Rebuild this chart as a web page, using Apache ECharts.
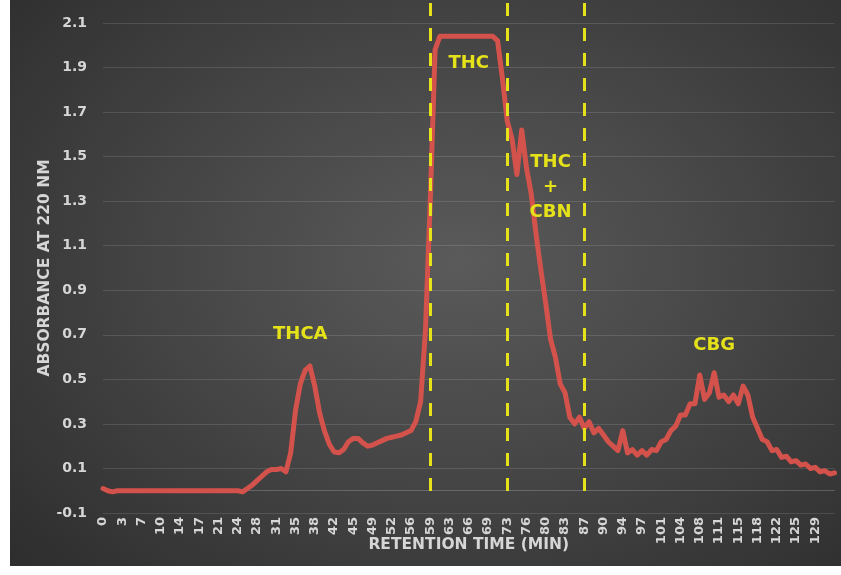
<!DOCTYPE html>
<html>
<head>
<meta charset="utf-8">
<script src="https://cdn.jsdelivr.net/npm/echarts@6/dist/echarts.min.js"></script>
<style>
  html, body { margin: 0; padding: 0; background: #ffffff; width: 841px; height: 575px; overflow: hidden; }
  #chart {
    position: absolute; left: 10px; top: 0; width: 831px; height: 566px;
    background: radial-gradient(ellipse 72% 78% at 54% 46%, #5a5a5a 0%, #474747 45%, #2e2e2e 100%);
  }
</style>
</head>
<body>
<div id="chart"></div>
<script>
// Retention-time tick labels (minutes), one every 4 samples
const tickLabels = [0, 3, 7, 10, 14, 17, 21, 24, 28, 31, 35, 38, 42, 45, 49, 52, 56, 59, 63,
  66, 69, 73, 76, 80, 83, 87, 90, 94, 97, 101, 104, 108, 111, 115, 118, 122, 125, 129];
const samplesPerTick = 4;

// Absorbance at 220 nm, one value per sample
const absorbance = [
  0.01, 0.0, -0.005, 0.0,      // 0
  0, 0, 0, 0,                  // 3
  0, 0, 0, 0,                  // 7
  0, 0, 0, 0,                  // 10
  0, 0, 0, 0,                  // 14
  0, 0, 0, 0,                  // 17
  0, 0, 0, 0,                  // 21
  0, -0.005, 0.01, 0.025,      // 24
  0.045, 0.065, 0.085, 0.095,  // 28
  0.095, 0.1, 0.085, 0.17,     // 31
  0.36, 0.48, 0.54, 0.56,      // 35
  0.47, 0.35, 0.27, 0.21,      // 38
  0.175, 0.17, 0.185, 0.22,    // 42
  0.235, 0.235, 0.215, 0.2,    // 45
  0.205, 0.215, 0.225, 0.235,  // 49
  0.24, 0.245, 0.25, 0.26,     // 52
  0.27, 0.31, 0.40, 0.72,      // 56
  1.3, 1.98, 2.04, 2.04,       // 59
  2.04, 2.04, 2.04, 2.04,      // 63
  2.04, 2.04, 2.04, 2.04,      // 66
  2.04, 2.04, 2.02, 1.85,      // 69
  1.66, 1.58, 1.42, 1.62,      // 73
  1.45, 1.33, 1.15, 0.99,      // 76
  0.84, 0.68, 0.60, 0.48,      // 80
  0.44, 0.33, 0.30, 0.33,      // 83
  0.28, 0.31, 0.26, 0.28,      // 87
  0.25, 0.22, 0.20, 0.18,      // 90
  0.27, 0.17, 0.185, 0.16,     // 94
  0.18, 0.16, 0.185, 0.18,     // 97
  0.22, 0.23, 0.27, 0.29,      // 101
  0.34, 0.34, 0.39, 0.39,      // 104
  0.52, 0.41, 0.44, 0.53,      // 108
  0.42, 0.43, 0.40, 0.43,      // 111
  0.39, 0.47, 0.43, 0.33,      // 115
  0.28, 0.23, 0.22, 0.18,      // 118
  0.185, 0.15, 0.155, 0.13,    // 122
  0.135, 0.115, 0.12, 0.10,    // 125
  0.105, 0.085, 0.09, 0.075,   // 129
  0.08
];

// Fraction boundaries (sample index of the 59, 73 and 87 min ticks)
const fractionCuts = [68, 84, 100];

// Peak names and where they are written (sample index, absorbance)
const peakNames = ['THCA', 'THC', 'THC\n+\nCBN', 'CBG'];
const peakNameAt = [[41, 0.70], [76, 1.917], [93, 1.363], [127, 0.652]];

// Category list: tick label on every 4th sample, blank otherwise
const categories = [];
for (let i = 0; i < absorbance.length; i++) {
  categories.push(i % samplesPerTick === 0 && tickLabels[i / samplesPerTick] !== undefined
    ? String(tickLabels[i / samplesPerTick]) : '');
}

const FONT = 'DejaVu Sans';
const textGrey = '#d6d6d6';
const yellow = '#e6e21a';

const chart = echarts.init(document.getElementById('chart'));

chart.setOption({
  animation: false,
  grid: [
    // plot area
    { left: 93, right: 6.5, top: 23, bottom: 53, outerBoundsMode: 'none' },
    // taller frame used only for the fraction cut lines (runs from the top edge down to zero)
    { left: 93, right: 6.5, top: 3, bottom: 75, outerBoundsMode: 'none' }
  ],
  xAxis: [
    {
      type: 'category',
      data: categories,
      boundaryGap: false,
      axisLine: { show: true, onZero: true, lineStyle: { color: 'rgba(255,255,255,0.2)', width: 1 } },
      axisTick: { show: false },
      axisLabel: {
        interval: samplesPerTick - 1, rotate: 90, margin: 4,
        color: textGrey, fontFamily: FONT, fontWeight: 'bold', fontSize: 13
      },
      name: 'RETENTION TIME (MIN)',
      nameLocation: 'middle',
      nameGap: 24,
      nameMoveOverlap: false,
      nameTextStyle: { color: textGrey, fontFamily: FONT, fontWeight: 'bold', fontSize: 15.5 }
    },
    { type: 'category', gridIndex: 1, data: categories, boundaryGap: false, show: false }
  ],
  yAxis: [
    {
      type: 'value',
      min: -0.1, max: 2.1, interval: 0.2,
      axisLine: { show: false },
      axisTick: { show: false },
      axisLabel: {
        margin: 16, color: textGrey, fontFamily: FONT, fontWeight: 'bold', fontSize: 14,
        formatter: v => v.toFixed(1)
      },
      splitLine: { show: true, lineStyle: { color: 'rgba(255,255,255,0.12)', width: 1 } },
      name: 'ABSORBANCE AT 220 NM',
      nameLocation: 'middle',
      nameGap: 50,
      nameMoveOverlap: false,
      nameTextStyle: { color: textGrey, fontFamily: FONT, fontWeight: 'bold', fontSize: 15.5 }
    },
    { type: 'value', gridIndex: 1, min: 0, max: 1, show: false }
  ],
  series: [
    {
      type: 'line',
      data: absorbance,
      showSymbol: false,
      z: 2,
      lineStyle: { color: '#d4524c', width: 5, cap: 'round', join: 'round' },
      markPoint: {
        symbol: 'circle', symbolSize: 1,
        itemStyle: { color: 'rgba(0,0,0,0)' },
        label: {
          show: true, position: 'inside', formatter: '{b}',
          color: yellow, fontFamily: FONT, fontWeight: 'bold', fontSize: 18, lineHeight: 25
        },
        data: peakNames.map((n, k) => ({ name: n, coord: peakNameAt[k] }))
      }
    },
    {
      type: 'line',
      xAxisIndex: 1, yAxisIndex: 1,
      data: [],
      z: 5,
      markLine: {
        silent: true,
        symbol: ['none', 'none'],
        label: { show: false },
        lineStyle: { color: yellow, width: 3, type: [13, 12] },
        data: fractionCuts.map(c => [{ coord: [c, 1] }, { coord: [c, 0] }])
      }
    }
  ]
});
</script>
</body>
</html>
